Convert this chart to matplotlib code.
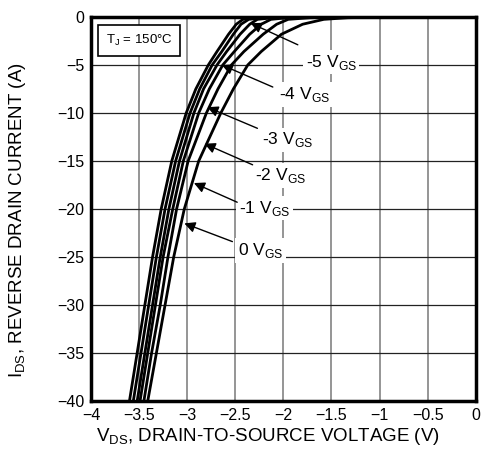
import numpy as np
import matplotlib
matplotlib.use('Agg')
import matplotlib.pyplot as plt
from matplotlib.ticker import FuncFormatter

plt.rcParams['font.family'] = ['Liberation Sans', 'DejaVu Sans']
plt.rcParams['axes.unicode_minus'] = True

# current levels (A) at which the curves were read
i_levels = [0, -0.08, -0.25, -0.76, -1.8, -3.6, -5, -7.5, -10, -15, -20, -25, -30, -35, -40]

# V_DS (V) for each curve, left to right
v_c1 = [-2.00, -2.32, -2.42, -2.49, -2.57, -2.69, -2.78, -2.91, -3.01, -3.16, -3.27, -3.36, -3.44, -3.52, -3.60]
v_c2 = [-1.85, -2.22, -2.36, -2.44, -2.52, -2.64, -2.74, -2.87, -2.97, -3.12, -3.23, -3.32, -3.40, -3.48, -3.56]
v_c3 = [-1.70, -2.10, -2.27, -2.35, -2.45, -2.59, -2.69, -2.83, -2.93, -3.08, -3.19, -3.28, -3.36, -3.44, -3.52]
v_c4 = [-1.50, -1.95, -2.13, -2.23, -2.35, -2.51, -2.63, -2.77, -2.88, -3.04, -3.15, -3.25, -3.33, -3.41, -3.49]
v_c5 = [-1.30, -1.72, -1.95, -2.07, -2.21, -2.41, -2.54, -2.68, -2.80, -2.99, -3.11, -3.20, -3.28, -3.37, -3.45]
v_c6 = [-0.90, -1.33, -1.58, -1.80, -2.02, -2.23, -2.37, -2.52, -2.65, -2.88, -3.03, -3.14, -3.23, -3.32, -3.41]
curves = [v_c1, v_c2, v_c3, v_c4, v_c5, v_c6]

# labels: text, text position, arrow tail, arrow head
lbl_text = ['-5 V', '-4 V', '-3 V', '-2 V', '-1 V', '0 V']
lbl_pos = [(-1.77, -4.7), (-2.05, -8.1), (-2.22, -12.8), (-2.29, -16.5), (-2.46, -19.9), (-2.47, -24.3)]
arrow_tail = [(-1.85, -2.9), (-2.11, -7.3), (-2.27, -11.6), (-2.32, -15.4), (-2.48, -19.3), (-2.53, -23.4)]
arrow_head = [(-2.34, -0.65), (-2.64, -5.0), (-2.79, -9.4), (-2.82, -13.2), (-2.93, -17.3), (-3.03, -21.5)]

fig = plt.figure(figsize=(4.84, 4.58), dpi=100)
ax = fig.add_axes([0.188, 0.1245, 0.795, 0.8385])

ax.set_xlim(-4, 0)
ax.set_ylim(-40, 0)
ax.set_xticks(np.arange(-4, 0.01, 0.5))
ax.set_yticks(np.arange(-40, 0.1, 5))
fmt = FuncFormatter(lambda v, p: ('%g' % v).replace('-', '\u2212'))
ax.xaxis.set_major_formatter(fmt)
ax.yaxis.set_major_formatter(fmt)
ax.tick_params(length=0, labelsize=11.5, pad=5)
for x in np.arange(-3.5, 0, 0.5):
    ax.axvline(x, color='#8c8c8c', lw=1.3, zorder=1)
for y in np.arange(-35, 0, 5):
    ax.axhline(y, color='#222222', lw=0.9, zorder=1)
for s in ax.spines.values():
    s.set_linewidth(2.5)

for v in curves:
    ax.plot([0] + v, [0] + i_levels, color='black', lw=2, zorder=3,
            solid_joinstyle='round')

for t, p, a, h in zip(lbl_text, lbl_pos, arrow_tail, arrow_head):
    ax.text(p[0], p[1], t + r'$_{\mathregular{GS}}$', fontsize=12.5, ha='left', va='center',
            bbox=dict(facecolor='white', edgecolor='none', pad=2), zorder=4)
    ax.annotate('', xy=h, xytext=a,
                arrowprops=dict(arrowstyle='-|>', color='black', lw=1,
                                mutation_scale=16, shrinkA=0, shrinkB=0), zorder=5)

ax.text(-3.5, -2.45, r'T$_{\mathregular{J}}$ = 150°C', fontsize=9.5, ha='center', va='center',
        bbox=dict(boxstyle='square,pad=0.6', facecolor='white', edgecolor='black', lw=1.2), zorder=6)

ax.set_xlabel(r'V$_{\mathregular{DS}}$, DRAIN-TO-SOURCE VOLTAGE (V)', fontsize=13.5, labelpad=4)
ax.xaxis.set_label_coords(0.46, -0.065)
ax.set_ylabel(r'I$_{\mathregular{DS}}$, REVERSE DRAIN CURRENT (A)', fontsize=13.5)
ax.yaxis.set_label_coords(-0.165, 0.47)

fig.savefig('out.png', dpi=100)
